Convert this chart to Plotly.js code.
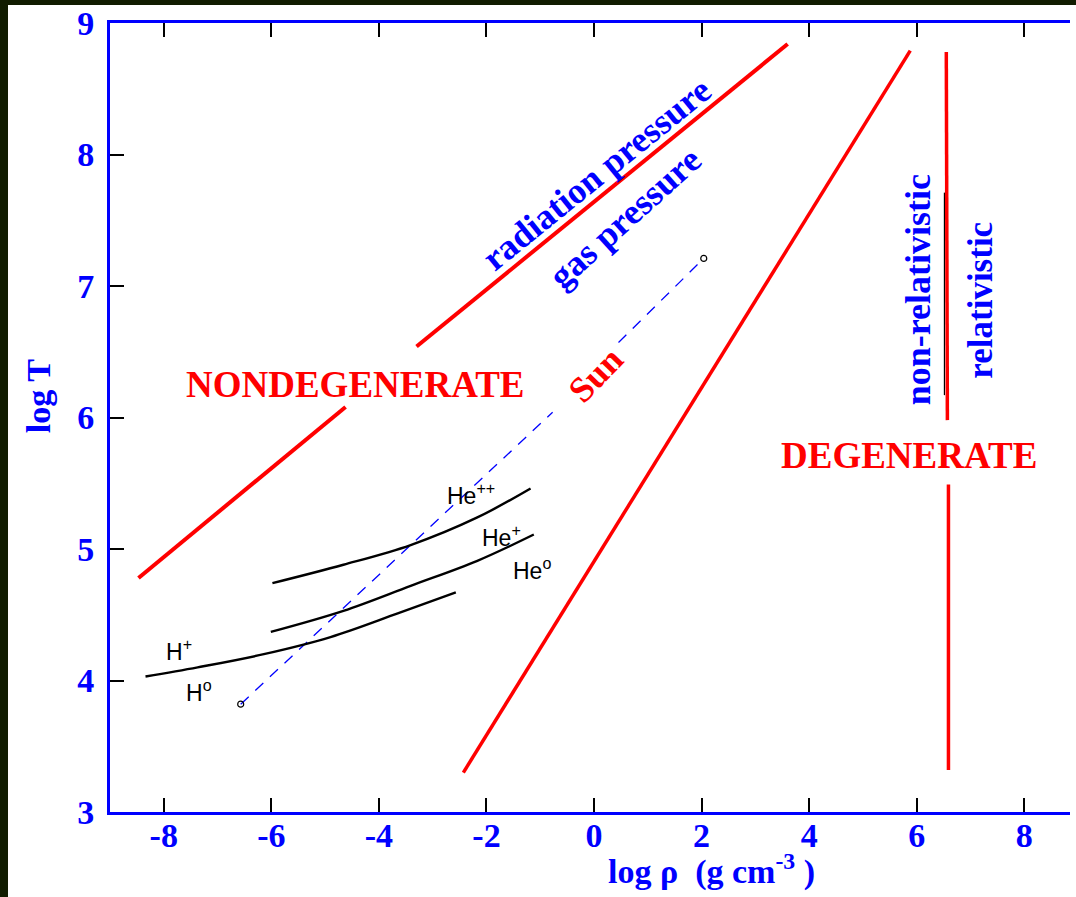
<!DOCTYPE html>
<html>
<head>
<meta charset="utf-8">
<script src="https://cdn.plot.ly/plotly-3.0.1.min.js"></script>
<style>
  html, body { margin: 0; padding: 0; background: #111c00; width: 1076px; height: 897px; overflow: hidden; }
  #chart { position: absolute; left: 8px; top: 5px; width: 1068px; height: 892px; background: #ffffff; }
</style>
</head>
<body>
<div id="chart"></div>
<script>
// ---- tick labels ----
const xTickVals = [-8, -6, -4, -2, 0, 2, 4, 6, 8];
const xTickText = ['-8', '-6', '-4', '-2', '0', '2', '4', '6', '8'];
const yTickVals = [3, 4, 5, 6, 7, 8, 9];
const yTickText = ['3', '4', '5', '6', '7', '8', '9'];

// ---- red boundary lines (log rho, log T) ----
const nondegLowX = [-8.47, -4.62];
const nondegLowY = [4.78, 6.08];
const radGasX = [-3.30, 3.60];
const radGasY = [6.54, 8.84];
const degenX = [-2.43, 5.88];
const degenY = [3.30, 8.79];
const relTopX = [6.55, 6.57];
const relTopY = [8.78, 5.98];
const relBotX = [6.59, 6.59];
const relBotY = [5.49, 3.32];
const relShadowX = [6.515, 6.515];
const relShadowY = [7.71, 6.17];

// ---- Sun track (dashed) ----
const sunAX = [-6.57, -0.77];
const sunAY = [3.82, 6.04];
const sunBX = [0.455, 2.04];
const sunBY = [6.57, 7.21];

// ---- ionization curves ----
const hX = [-8.34, -7.37, -6.14, -4.90, -3.65, -2.57];
const hY = [4.03, 4.10, 4.20, 4.33, 4.51, 4.67];
const heIX = [-6.01, -4.66, -3.41, -2.17, -1.12];
const heIY = [4.37, 4.53, 4.72, 4.91, 5.11];
const heIIX = [-5.98, -4.66, -3.41, -2.17, -1.18];
const heIIY = [4.74, 4.88, 5.03, 5.24, 5.46];

// ---- labels ----
const ionLabels = ['H<sup>+</sup>', 'H<sup>o</sup>', 'He<sup>++</sup>', 'He<sup>+</sup>', 'He<sup>o</sup>'];
const ionLabelX = [-7.72, -7.35, -2.28, -1.72, -1.16];
const ionLabelY = [4.23, 3.92, 5.42, 5.10, 4.85];

const RED = '#ff0000';
const BLUE = '#0000ff';
const serifBold = (size, color) => ({ family: 'Liberation Serif, Times New Roman, serif', size: size, color: color, weight: 'bold' });

function redLine(x, y, w) {
  return { x: x, y: y, mode: 'lines', type: 'scatter', line: { color: RED, width: w || 4 }, hoverinfo: 'skip', showlegend: false };
}

const traces = [
  redLine(nondegLowX, nondegLowY),
  redLine(radGasX, radGasY),
  redLine(degenX, degenY, 3.5),
  { x: relShadowX, y: relShadowY, mode: 'lines', type: 'scatter', line: { color: '#000000', width: 1.2 }, showlegend: false, hoverinfo: 'skip' },
  redLine(relTopX, relTopY, 3.5),
  redLine(relBotX, relBotY, 3.5),
  { x: sunAX, y: sunAY, mode: 'lines', type: 'scatter', line: { color: BLUE, width: 1.3, dash: '11px,9px' }, showlegend: false, hoverinfo: 'skip' },
  { x: sunBX, y: sunBY, mode: 'lines', type: 'scatter', line: { color: BLUE, width: 1.3, dash: '11px,9px' }, showlegend: false, hoverinfo: 'skip' },
  { x: [sunAX[0], sunBX[1]], y: [sunAY[0], sunBY[1]], mode: 'markers', type: 'scatter',
    marker: { symbol: 'circle-open', size: 6, color: '#000000', line: { width: 1.2 } }, showlegend: false, hoverinfo: 'skip' },
  { x: hX, y: hY, mode: 'lines', type: 'scatter', line: { color: '#000000', width: 2.4, shape: 'spline', smoothing: 1 }, showlegend: false },
  { x: heIX, y: heIY, mode: 'lines', type: 'scatter', line: { color: '#000000', width: 2.4, shape: 'spline', smoothing: 1 }, showlegend: false },
  { x: heIIX, y: heIIY, mode: 'lines', type: 'scatter', line: { color: '#000000', width: 2.4, shape: 'spline', smoothing: 1 }, showlegend: false }
];

const annotations = [];
for (let i = 0; i < ionLabels.length; i++) {
  annotations.push({ x: ionLabelX[i], y: ionLabelY[i], xref: 'x', yref: 'y', text: ionLabels[i], showarrow: false,
    font: { family: 'Liberation Sans, Arial, sans-serif', size: 23, color: '#000000' } });
}
annotations.push(
  { x: -4.43, y: 6.25, text: 'NONDEGENERATE', showarrow: false, font: serifBold(37, RED) },
  { x: 5.85, y: 5.71, text: 'DEGENERATE', showarrow: false, font: serifBold(37, RED) },
  { x: 0.03, y: 6.32, text: 'Sun', textangle: -46, showarrow: false, font: serifBold(36, RED) },
  { x: 0.05, y: 7.85, text: 'radiation pressure', textangle: -39, showarrow: false, font: serifBold(36, BLUE) },
  { x: 0.57, y: 7.52, text: 'gas pressure', textangle: -42, showarrow: false, font: serifBold(36, BLUE) },
  { x: 6.03, y: 6.97, text: 'non-relativistic', textangle: -90, showarrow: false, font: serifBold(36, BLUE) },
  { x: 7.18, y: 6.89, text: 'relativistic', textangle: -90, showarrow: false, font: serifBold(35, BLUE) },
  { xref: 'paper', yref: 'paper', x: -0.075, y: 0.527, xanchor: 'center', yanchor: 'middle',
    text: 'log T', textangle: -90, showarrow: false, font: serifBold(34, BLUE) },
  { xref: 'paper', yref: 'paper', x: 0.627, y: -0.073, xanchor: 'center', yanchor: 'middle',
    text: 'log ρ  (g cm<sup>-3</sup> )', showarrow: false, font: serifBold(34, BLUE) }
);

const layout = {
  width: 1068, height: 892,
  margin: { l: 102, r: 6, t: 18, b: 85 },
  paper_bgcolor: '#ffffff', plot_bgcolor: '#ffffff',
  showlegend: false,
  xaxis: {
    range: [-9, 8.85], tickvals: xTickVals, ticktext: xTickText,
    showgrid: false, zeroline: false,
    showline: true, linecolor: BLUE, linewidth: 3, mirror: 'ticks',
    ticks: 'inside', ticklen: 14, tickwidth: 2, tickcolor: '#000000',
    tickfont: serifBold(34, BLUE), ticklabelstandoff: -9, ticklabeloverflow: 'allow'
  },
  yaxis: {
    range: [3, 9], tickvals: yTickVals, ticktext: yTickText,
    showgrid: false, zeroline: false,
    showline: true, linecolor: BLUE, linewidth: 3,
    ticks: 'inside', ticklen: 14, tickwidth: 2, tickcolor: '#000000',
    tickfont: serifBold(34, BLUE), ticklabelstandoff: 6, ticklabeloverflow: 'allow'
  },
  yaxis2: {
    range: [3, 9], overlaying: 'y', side: 'right', tickvals: yTickVals,
    showticklabels: false, showgrid: false, zeroline: false,
    showline: true, linecolor: '#8f8fff', linewidth: 2,
    ticks: 'inside', ticklen: 14, tickwidth: 2, tickcolor: '#000000'
  },
  annotations: annotations
};

Plotly.newPlot('chart', traces, layout, { displayModeBar: false, staticPlot: true });
</script>
</body>
</html>
